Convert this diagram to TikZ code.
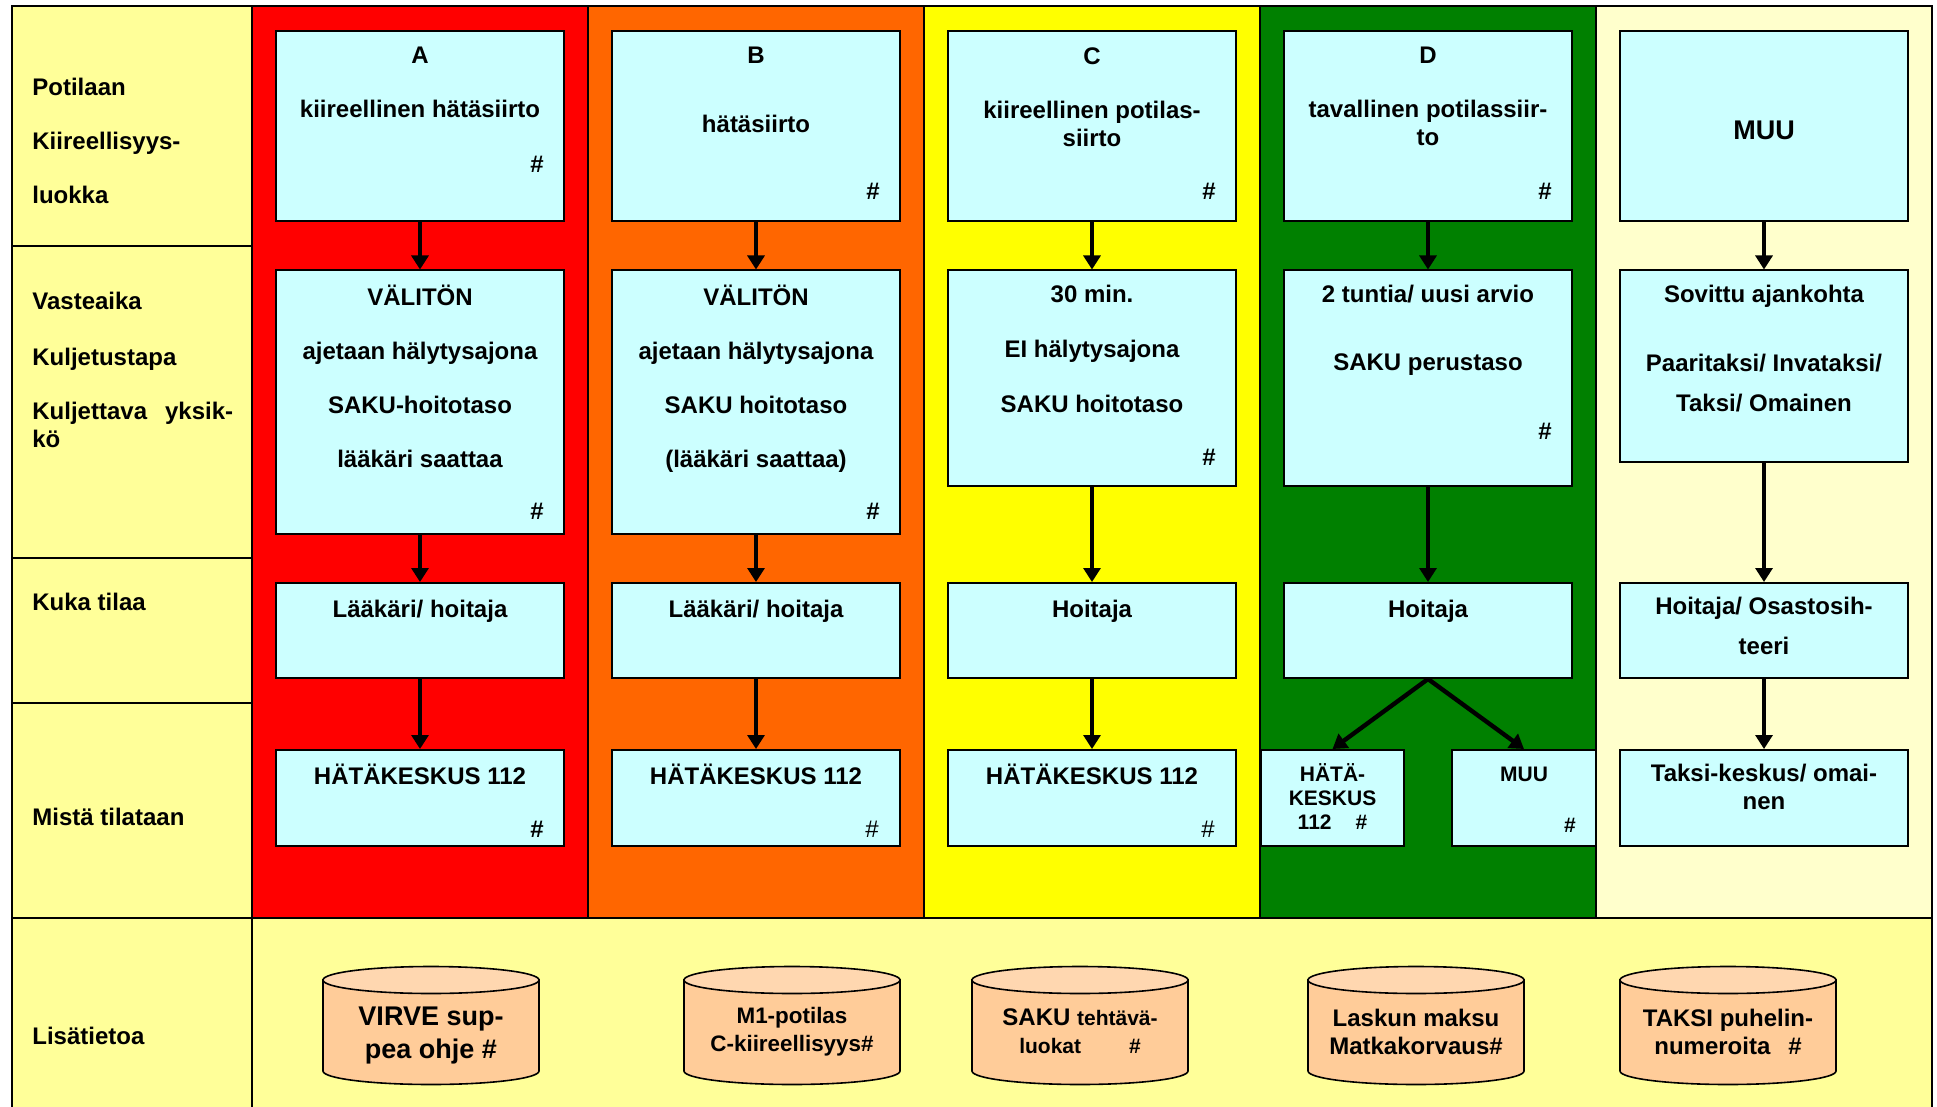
\documentclass[tikz,border=0pt]{standalone}
\usepackage{fontspec}
\setmainfont{Liberation Sans}
\usetikzlibrary{arrows.meta, positioning, fit, calc}

\definecolor{lblyellow}{HTML}{FFFF99}
\definecolor{kiired}{HTML}{FF0000}
\definecolor{kiiorange}{HTML}{FF6600}
\definecolor{kiiyellow}{HTML}{FFFF00}
\definecolor{kiigreen}{HTML}{008000}
\definecolor{kiicream}{HTML}{FFFFCC}
\definecolor{boxcyan}{HTML}{CCFFFF}
\definecolor{cylbody}{HTML}{FFCC99}
\definecolor{cyltop}{HTML}{FFD7B0}

\tikzset{
  box/.style={draw, line width=1pt, fill=boxcyan, inner sep=0pt},
  txt/.style={font=\fontsize{12}{14}\selectfont\bfseries, align=center, inner sep=0pt, execute at begin node={\vphantom{Ä}}},
  smalltxt/.style={txt, font=\fontsize{10.5}{12}\selectfont\bfseries},
  bigtxt/.style={font=\fontsize{13.5}{16}\selectfont\bfseries, inner sep=0pt},
  lbl/.style={txt, align=left, anchor=north west},
  hash/.style={font=\fontsize{12}{14}\selectfont\bfseries, inner sep=0pt},
  thinhash/.style={font=\fontsize{12}{14}\selectfont, inner sep=0pt},
  arr/.style={line width=1.6pt, -{Triangle[length=7pt, width=8.5pt]}},
  splitarr/.style={arr, line width=2.2pt},
  cyltxt/.style={font=\fontsize{12}{14}\selectfont\bfseries, align=center, inner sep=0pt}
}

\begin{document}
\begin{tikzpicture}[x=0.5pt, y=-0.5pt]
  \useasboundingbox (0,0) rectangle (1937,1107);

  % Background columns
  \fill[lblyellow] (12,6) rectangle (1932,1120);
  \fill[kiired] (252,6) rectangle (588,918);
  \fill[kiiorange] (588,6) rectangle (924,918);
  \fill[kiiyellow] (924,6) rectangle (1260,918);
  \fill[kiigreen] (1260,6) rectangle (1596,918);
  \fill[kiicream] (1596,6) rectangle (1932,918);

  % Grid lines
  \foreach \gx in {588,924,1260,1596}
    \draw[line width=0.6pt] (\gx,6) -- (\gx,918);
  \draw[line width=0.8pt] (12,246) -- (252,246) (12,558) -- (252,558) (12,703) -- (252,703);
  \draw[line width=0.8pt] (252,6) -- (252,1120);
  \draw[line width=1.2pt] (12,918) -- (1932,918);
  \draw[line width=0.9pt] (12,6) rectangle (1932,1120);

  % Row labels
  \node[lbl] (lblluokka) at (32,78) {Potilaan\\[13pt]Kiireellisyys-\\[13pt]luokka};
  \node[lbl] (lblvaste) at (32,292) {Vasteaika\\[14pt]Kuljetustapa\\[13pt]Kuljettava\hspace{9pt}yksik-\\kö};
  \node[lbl] (lblkuka) at (32,590) {Kuka tilaa};
  \node[lbl] (lblmista) at (32,805) {Mistä tilataan};
  \node[lbl] (lbllisa) at (32,1024) {Lisätietoa};

  % Column A
  \node[box, fit={(276,31) (564,221)}] (a1) {};
  \node[txt, below=8.5pt of a1.north] (a1t) {A\\[13pt]kiireellinen hätäsiirto};
  \node[hash] (a1h) at (537,164) {\#};
  \node[box, fit={(276,270.5) (564,534)}] (a2) {};
  \node[txt, below=7.5pt of a2.north] (a2t) {VÄLITÖN\\[13pt]ajetaan hälytysajona\\[13pt]SAKU-hoitotaso\\[13pt]lääkäri saattaa};
  \node[hash] (a2h) at (537,511) {\#};
  \node[box, fit={(276,583) (564,678)}] (a3) {};
  \node[txt, below=7.5pt of a3.north] (a3t) {Lääkäri/ hoitaja};
  \node[box, fit={(276,750) (564,846)}] (a4) {};
  \node[txt, below=7.5pt of a4.north] (a4t) {HÄTÄKESKUS 112};
  \node[hash] (a4h) at (537,829) {\#};

  % Column B
  \node[box, fit={(612,31) (900,221)}] (b1) {};
  \node[txt, below=8.5pt of b1.north] (b1t) {B\\[20.5pt]hätäsiirto};
  \node[hash] (b1h) at (873,191.5) {\#};
  \node[box, fit={(612,270.5) (900,534)}] (b2) {};
  \node[txt, below=7.5pt of b2.north] (b2t) {VÄLITÖN\\[13pt]ajetaan hälytysajona\\[13pt]SAKU hoitotaso\\[13pt](lääkäri saattaa)};
  \node[hash] (b2h) at (873,511) {\#};
  \node[box, fit={(612,583) (900,678)}] (b3) {};
  \node[txt, below=7.5pt of b3.north] (b3t) {Lääkäri/ hoitaja};
  \node[box, fit={(612,750) (900,846)}] (b4) {};
  \node[txt, below=7.5pt of b4.north] (b4t) {HÄTÄKESKUS 112};
  \node[thinhash] (b4h) at (872,829) {\#};

  % Column C
  \node[box, fit={(948,31) (1236,221)}] (c1) {};
  \node[txt, below=8.5pt of c1.north] (c1t) {C\\[13pt]kiireellinen potilas-\\siirto};
  \node[hash] (c1h) at (1209,191.5) {\#};
  \node[box, fit={(948,270.5) (1236,486)}] (c2) {};
  \node[txt, below=7.5pt of c2.north] (c2t) {30 min.\\[13.5pt]EI hälytysajona\\[13.5pt]SAKU hoitotaso};
  \node[hash] (c2h) at (1209,457) {\#};
  \node[box, fit={(948,583) (1236,678)}] (c3) {};
  \node[txt, below=7.5pt of c3.north] (c3t) {Hoitaja};
  \node[box, fit={(948,750) (1236,846)}] (c4) {};
  \node[txt, below=7.5pt of c4.north] (c4t) {HÄTÄKESKUS 112};
  \node[thinhash] (c4h) at (1208,829) {\#};

  % Column D
  \node[box, fit={(1284,31) (1572,221)}] (d1) {};
  \node[txt, below=8.5pt of d1.north] (d1t) {D\\[13pt]tavallinen potilassiir-\\to};
  \node[hash] (d1h) at (1545,191.5) {\#};
  \node[box, fit={(1284,270.5) (1572,486)}] (d2) {};
  \node[txt, below=7.5pt of d2.north] (d2t) {2 tuntia/ uusi arvio\\[20pt]SAKU perustaso};
  \node[hash] (d2h) at (1545,431) {\#};
  \node[box, fit={(1284,583) (1572,678)}] (d3) {};
  \node[txt, below=7.5pt of d3.north] (d3t) {Hoitaja};
  \node[box, fit={(1261,750) (1404,846)}] (d4h) {};
  \node[smalltxt, below=7.2pt of d4h.north] (d4ht) {HÄTÄ-\\KESKUS\\112\hspace{12pt}\#};
  \node[box, fit={(1452,750) (1596,846)}] (d4m) {};
  \node[smalltxt, below=7.2pt of d4m.north] (d4mt) {MUU};
  \node[hash, font=\fontsize{10.5}{12}\selectfont\bfseries] (d4mh) at (1570,825) {\#};

  % Column MUU
  \node[box, fit={(1620,31) (1908,221)}] (e1) {};
  \node[bigtxt] (e1t) at ([yshift=-2pt]e1.center) {MUU};
  \node[box, fit={(1620,270.5) (1908,462)}] (e2) {};
  \node[txt, below=7.5pt of e2.north] (e2t) {Sovittu ajankohta\\[20.5pt]Paaritaksi/ Invataksi/\\[6.2pt]Taksi/ Omainen};
  \node[box, fit={(1620,583) (1908,678)}] (e3) {};
  \node[txt, below=7.5pt of e3.north] (e3t) {Hoitaja/ Osastosih-\\[5.75pt]teeri};
  \node[box, fit={(1620,750) (1908,846)}] (e4) {};
  \node[txt, below=7.5pt of e4.north] (e4t) {Taksi-keskus/ omai-\\nen};

  % Arrows
  \foreach \c in {a,b,c,d,e} {
    \draw[arr] (\c1) -- (\c2);
    \draw[arr] (\c2) -- (\c3);
  }
  \foreach \c in {a,b,c,e}
    \draw[arr] (\c3) -- (\c4);
  \draw[splitarr] (d3.south) -- (d4h.north);
  \draw[splitarr] (d3.south) -- (d4m.north);

  % Lisätietoa cylinders
  \foreach \cx in {431,792,1080,1416,1728} {
    \filldraw[fill=cylbody, line width=0.8pt] (\cx-108,980) -- (\cx-108,1071)
      arc[start angle=180, end angle=360, x radius=54pt, y radius=6.75pt] -- (\cx+108,980) -- cycle;
    \filldraw[fill=cyltop, line width=0.8pt] (\cx,980) ellipse [x radius=54pt, y radius=6.75pt];
  }
  \node[cyltxt, font=\fontsize{13.5}{16.5}\selectfont\bfseries] (virve) at (431,1036) {VIRVE sup-\\pea ohje \#};
  \node[cyltxt, font=\fontsize{11.2}{14}\selectfont\bfseries] (mone) at (792,1032) {M1-potilas\\C-kiireellisyys\#};
  \node[cyltxt] (sakuluokat) at (1080,1031) {SAKU {\fontsize{10.5}{14}\selectfont tehtävä-}\\{\fontsize{10.5}{14}\selectfont luokat\hspace{24pt}\#}};
  \node[cyltxt] (lasku) at (1416,1032) {Laskun maksu\\Matkakorvaus\#};
  \node[cyltxt] (taksinro) at (1728,1032) {TAKSI puhelin-\\numeroita\hspace{9pt}\#};
\end{tikzpicture}
\end{document}
